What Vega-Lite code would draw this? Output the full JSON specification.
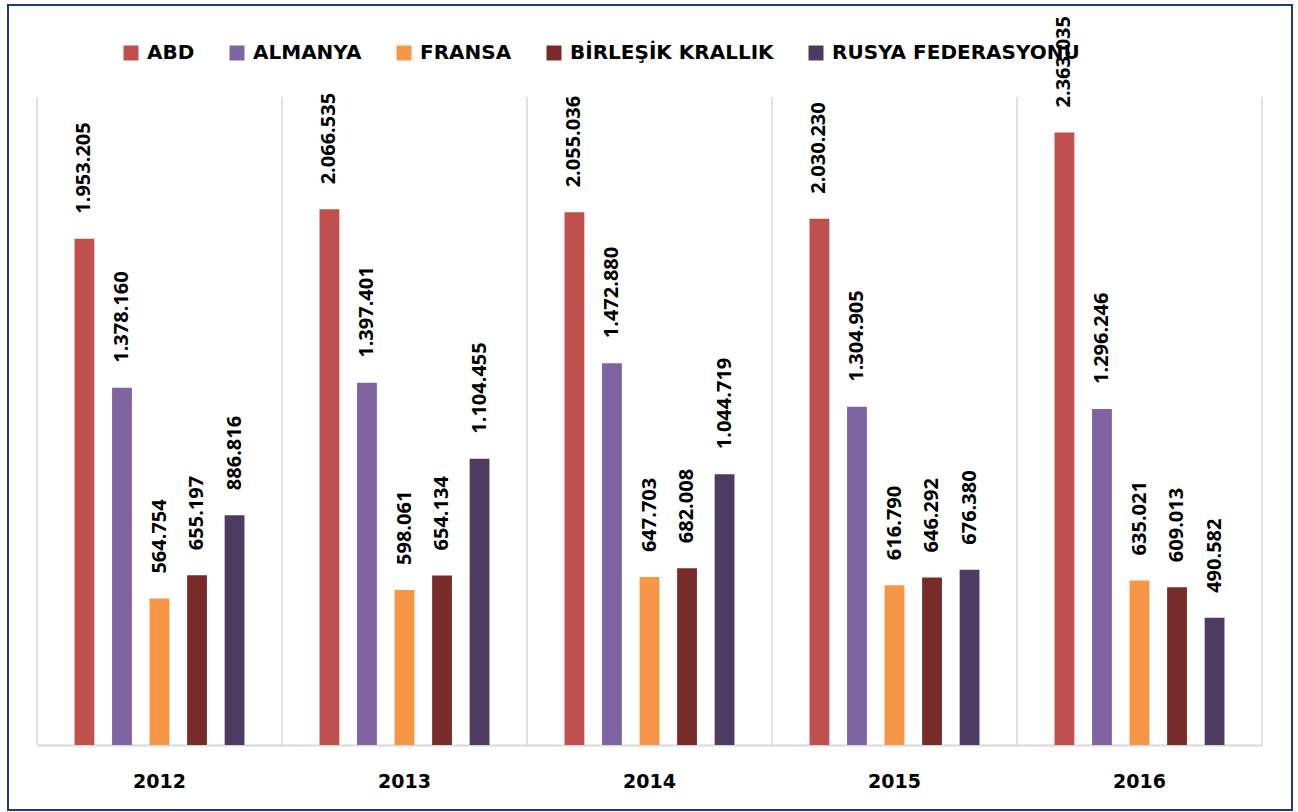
{
  "$schema": "https://vega.github.io/schema/vega-lite/v6.json",
  "autosize": {"type": "none"},
  "width": 1284,
  "height": 805,
  "padding": {"left": 8, "top": 5, "right": 6, "bottom": 2},
  "background": "white",
  "config": {
    "locale": {"number": {"decimal": ",", "thousands": ".", "grouping": [3], "currency": ["", ""]}},
    "view": {"stroke": "#1F3B7A", "strokeWidth": 2}
  },
  "datasets": {
    "exports": [
      {"year": "2012", "country": "ABD", "value": 1953205},
      {"year": "2012", "country": "ALMANYA", "value": 1378160},
      {"year": "2012", "country": "FRANSA", "value": 564754},
      {"year": "2012", "country": "BİRLEŞİK KRALLIK", "value": 655197},
      {"year": "2012", "country": "RUSYA FEDERASYONU", "value": 886816},
      {"year": "2013", "country": "ABD", "value": 2066535},
      {"year": "2013", "country": "ALMANYA", "value": 1397401},
      {"year": "2013", "country": "FRANSA", "value": 598061},
      {"year": "2013", "country": "BİRLEŞİK KRALLIK", "value": 654134},
      {"year": "2013", "country": "RUSYA FEDERASYONU", "value": 1104455},
      {"year": "2014", "country": "ABD", "value": 2055036},
      {"year": "2014", "country": "ALMANYA", "value": 1472880},
      {"year": "2014", "country": "FRANSA", "value": 647703},
      {"year": "2014", "country": "BİRLEŞİK KRALLIK", "value": 682008},
      {"year": "2014", "country": "RUSYA FEDERASYONU", "value": 1044719},
      {"year": "2015", "country": "ABD", "value": 2030230},
      {"year": "2015", "country": "ALMANYA", "value": 1304905},
      {"year": "2015", "country": "FRANSA", "value": 616790},
      {"year": "2015", "country": "BİRLEŞİK KRALLIK", "value": 646292},
      {"year": "2015", "country": "RUSYA FEDERASYONU", "value": 676380},
      {"year": "2016", "country": "ABD", "value": 2363035},
      {"year": "2016", "country": "ALMANYA", "value": 1296246},
      {"year": "2016", "country": "FRANSA", "value": 635021},
      {"year": "2016", "country": "BİRLEŞİK KRALLIK", "value": 609013},
      {"year": "2016", "country": "RUSYA FEDERASYONU", "value": 490582}
    ],
    "years": [
      {"year": "2012"}, {"year": "2013"}, {"year": "2014"}, {"year": "2015"}, {"year": "2016"}
    ]
  },
  "layer": [
    {
      "data": {"name": "years"},
      "mark": {"type": "rule", "color": "#D9D9D9", "strokeWidth": 1.5},
      "encoding": {
        "x": {"field": "year", "type": "nominal", "bandPosition": 0},
        "y": {"datum": 0, "type": "quantitative"},
        "y2": {"datum": 2500000}
      }
    },
    {
      "data": {"name": "years"},
      "transform": [{"filter": "datum.year == '2016'"}],
      "mark": {"type": "rule", "color": "#D9D9D9", "strokeWidth": 1.5},
      "encoding": {
        "x": {"field": "year", "type": "nominal", "bandPosition": 1},
        "y": {"datum": 0, "type": "quantitative"},
        "y2": {"datum": 2500000}
      }
    },
    {
      "data": {"name": "exports"},
      "mark": {"type": "bar"},
      "encoding": {
        "x": {"field": "year", "type": "nominal"},
        "xOffset": {
          "field": "country", "type": "nominal",
          "scale": {"domain": ["ABD", "ALMANYA", "FRANSA", "BİRLEŞİK KRALLIK", "RUSYA FEDERASYONU"], "paddingInner": 0.472, "paddingOuter": 1.139}
        },
        "y": {"field": "value", "type": "quantitative"},
        "color": {
          "field": "country", "type": "nominal",
          "scale": {"domain": ["ABD", "ALMANYA", "FRANSA", "BİRLEŞİK KRALLIK", "RUSYA FEDERASYONU"], "range": ["#C0504D", "#8064A2", "#F79646", "#772C2A", "#4D3B62"]},
          "legend": {"title": null, "orient": "none", "legendX": 113, "legendY": 38, "direction": "horizontal", "padding": 0, "symbolType": "square", "symbolSize": 225, "symbolStrokeWidth": 0, "symbolOpacity": 1, "labelFont": "DejaVu Sans", "labelFontSize": 20, "labelFontWeight": "bold", "labelColor": "black", "labelOffset": 6, "columnPadding": 32, "labelLimit": 400}
        }
      }
    },
    {
      "data": {"name": "exports"},
      "mark": {"type": "text", "angle": 270, "align": "left", "baseline": "middle", "dx": 25, "font": "Open Sans", "fontSize": 20, "fontWeight": "bold"},
      "encoding": {
        "x": {"field": "year", "type": "nominal"},
        "xOffset": {"field": "country", "type": "nominal"},
        "y": {"field": "value", "type": "quantitative"},
        "color": {"value": "black"},
        "text": {"field": "value", "type": "quantitative", "format": ",d"}
      }
    }
  ],
  "encoding": {
    "x": {
      "field": "year", "type": "nominal",
      "scale": {"range": [29, 1254], "paddingInner": 0, "paddingOuter": 0},
      "axis": {"title": null, "orient": "bottom", "offset": -65, "ticks": false, "tickSize": 0, "grid": false, "domainColor": "#D9D9D9", "domainWidth": 2, "labelFont": "DejaVu Sans", "labelFontSize": 19, "labelFontWeight": "bold", "labelColor": "black", "labelPadding": 27, "labelAngle": 0}
    },
    "y": {
      "type": "quantitative",
      "scale": {"domain": [0, 2500000], "range": [740, 92], "nice": false, "zero": true},
      "axis": null
    }
  }
}
